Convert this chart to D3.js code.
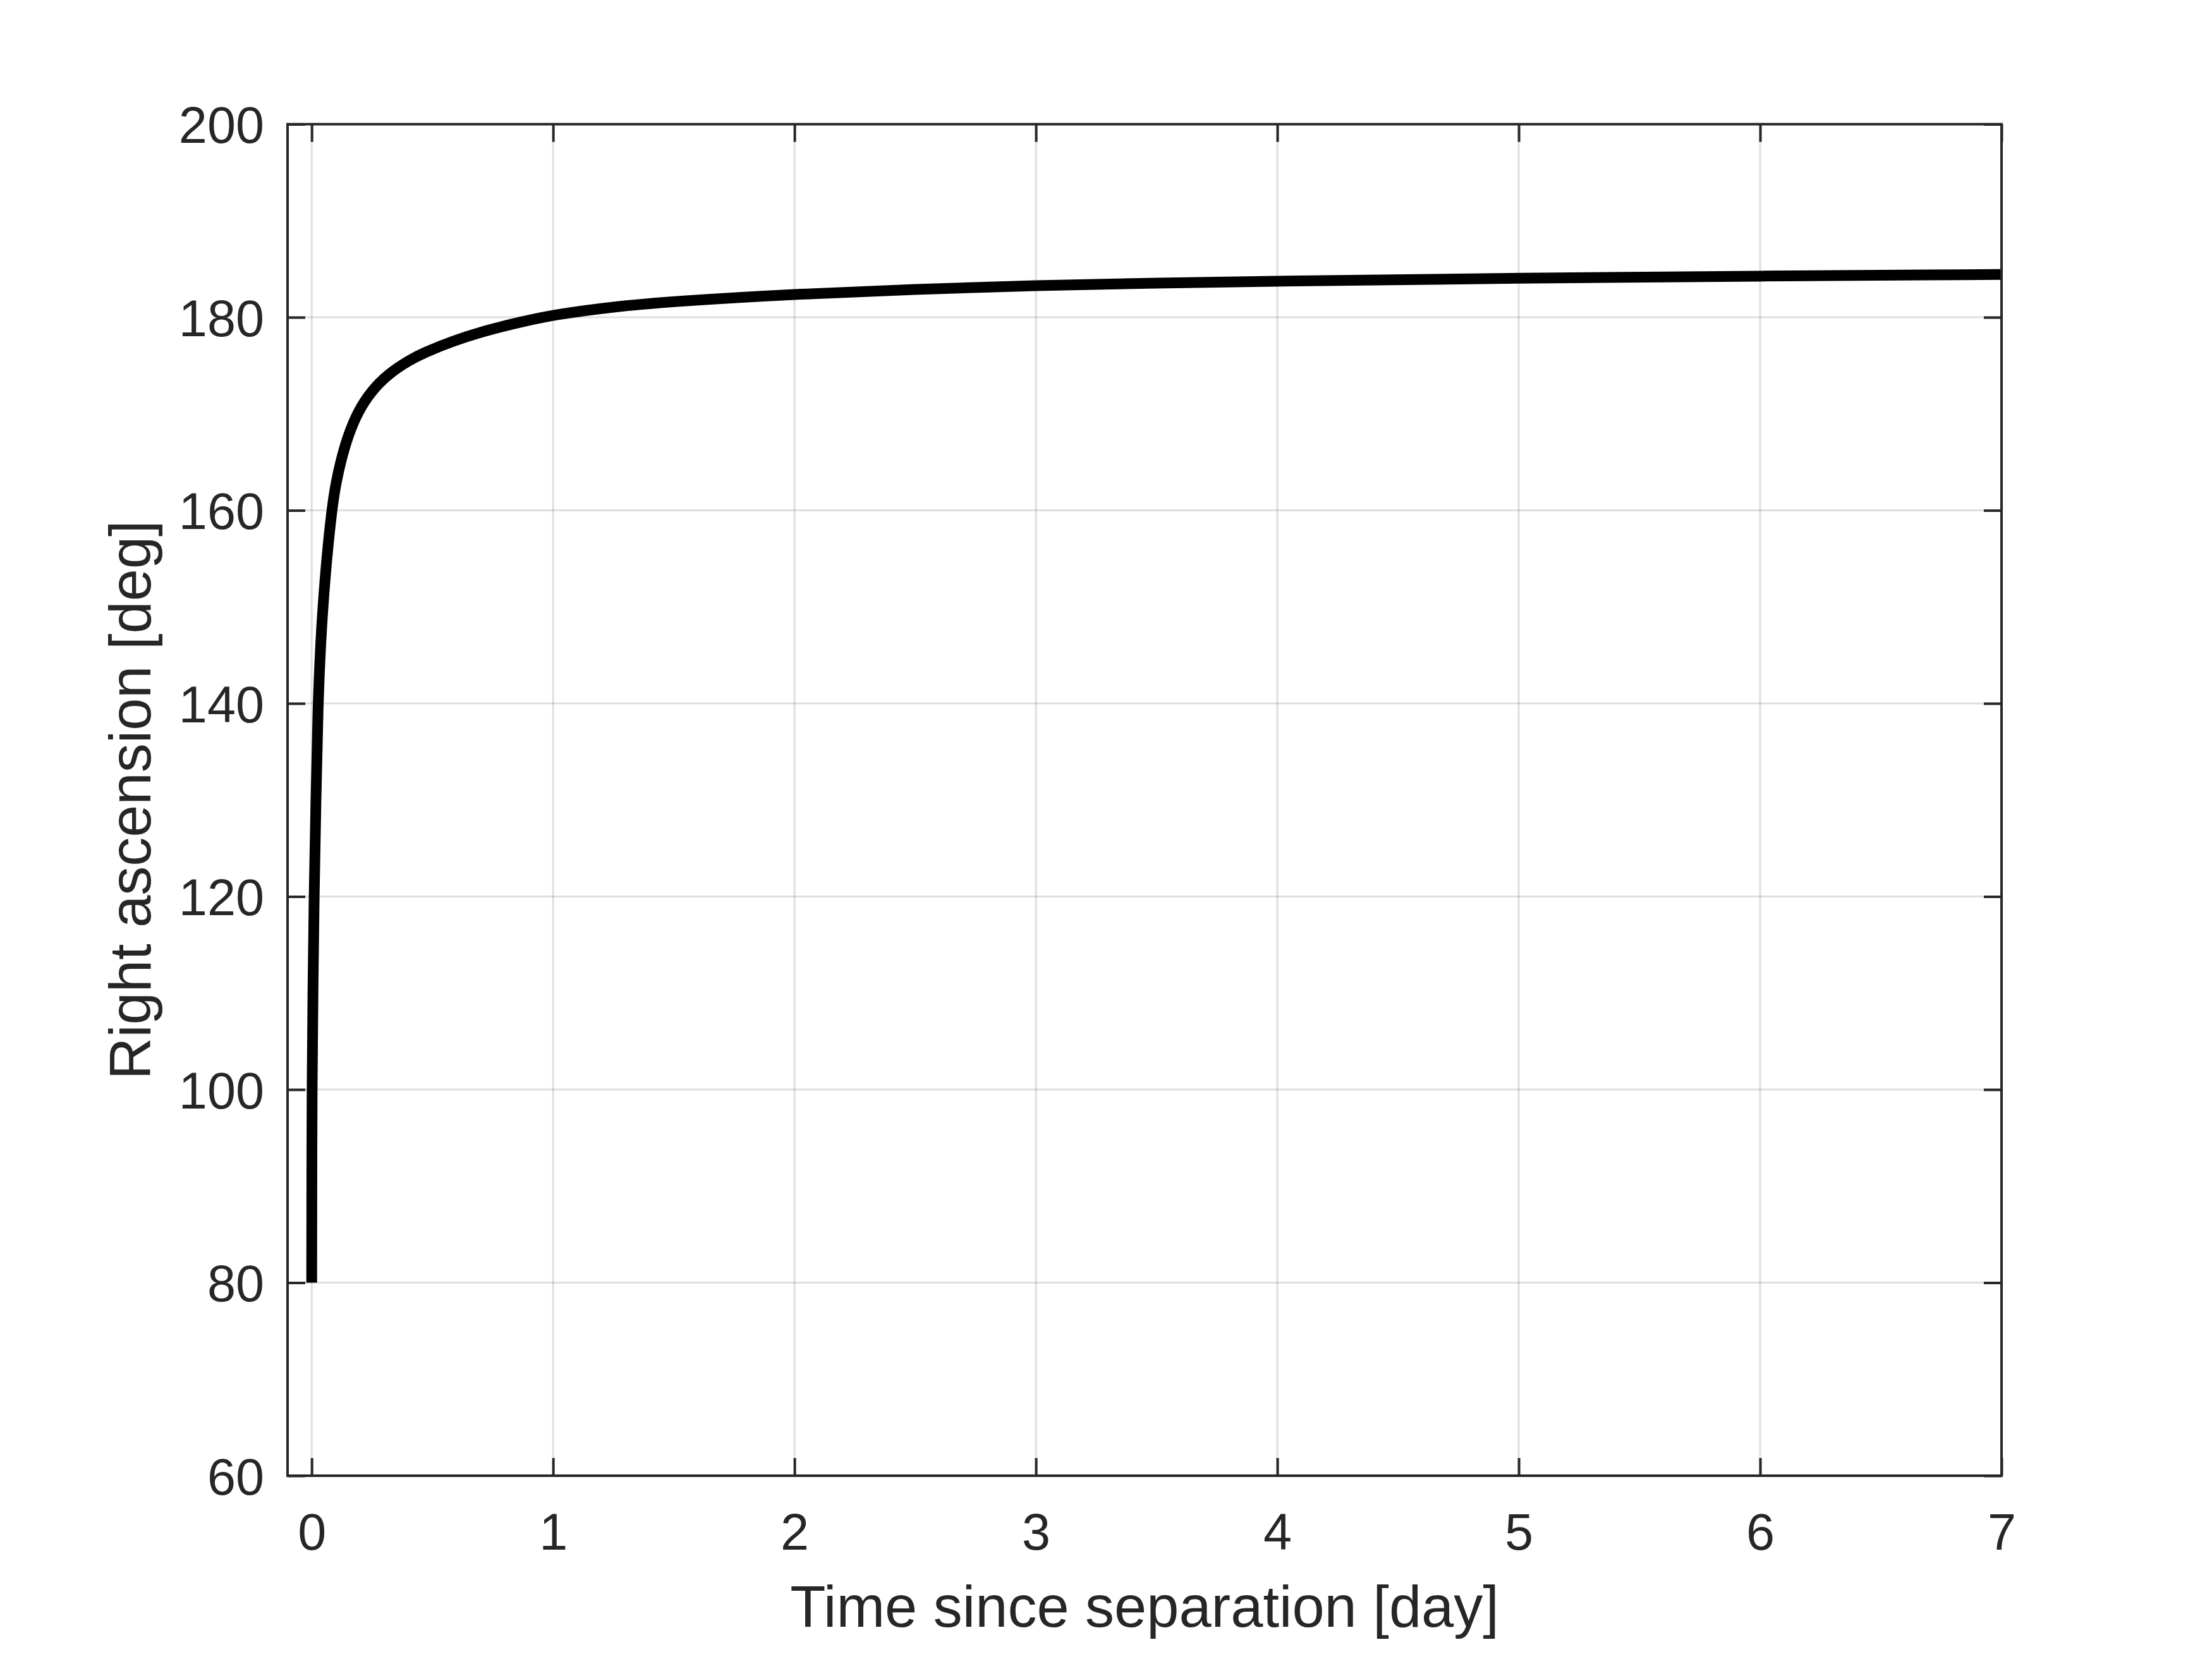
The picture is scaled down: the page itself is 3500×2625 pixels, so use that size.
<!DOCTYPE html>
<html>
<head>
<meta charset="utf-8">
<script src="https://cdn.jsdelivr.net/npm/d3@7"></script>
<style>
  html, body { margin: 0; padding: 0; background: #ffffff; }
  svg { display: block; }
  text { font-family: "Liberation Sans", Arial, Helvetica, sans-serif; fill: #262626; }
</style>
</head>
<body>
<script>
// ---- Data ----
const timeDays = [0, 0.0005, 0.0013, 0.005, 0.0097, 0.0175, 0.026, 0.037, 0.0464, 0.062, 0.083, 0.098, 0.119, 0.151, 0.191, 0.245, 0.315, 0.407, 0.463, 0.585, 0.724, 0.864, 1.0, 1.25, 1.5, 2, 2.5, 3, 3.5, 4, 5, 6, 7];
const rightAscension = [80, 90, 100, 110, 120, 130, 140, 146.2, 150, 155, 160, 162.5, 165, 167.8, 170.2, 172.3, 174.1, 175.6, 176.3, 177.55, 178.65, 179.5, 180.25, 181.1, 181.65, 182.4, 182.9, 183.3, 183.55, 183.75, 184.05, 184.27, 184.43];
const xTicks = [0, 1, 2, 3, 4, 5, 6, 7];
const yTicks = [60, 80, 100, 120, 140, 160, 180, 200];
const xDomain = [-0.1, 7];
const yDomain = [60, 200];
const xLabel = "Time since separation [day]";
const yLabel = "Right ascension [deg]";

// ---- Layout ----
const W = 3500, H = 2625;
const L = 455, R = 3167, T = 196.5, B = 2335;
const axisColor = "#262626";
const tickFont = 81, labelFont = 92, tickLen = 28;

const svg = d3.select("body").append("svg").attr("width", W).attr("height", H);
svg.append("rect").attr("width", W).attr("height", H).attr("fill", "#fff");

const x = d3.scaleLinear().domain(xDomain).range([L, R]);
const y = d3.scaleLinear().domain(yDomain).range([B, T]);

// Grid
const grid = svg.append("g");
grid.selectAll("line.gx").data(xTicks).join("line")
  .attr("x1", d => x(d)).attr("x2", d => x(d)).attr("y1", T).attr("y2", B)
  .attr("stroke", axisColor).attr("stroke-opacity", 0.15).attr("stroke-width", 3);
grid.selectAll("line.gy").data(yTicks).join("line")
  .attr("x1", L).attr("x2", R).attr("y1", d => y(d)).attr("y2", d => y(d))
  .attr("stroke", axisColor).attr("stroke-opacity", 0.15).attr("stroke-width", 3);

// Data line
const clipId = "plotclip";
svg.append("clipPath").attr("id", clipId).append("rect")
  .attr("x", L).attr("y", T).attr("width", R - L).attr("height", B - T);
const pts = timeDays.map((t, i) => [t, rightAscension[i]]);
svg.append("path")
  .datum(pts)
  .attr("clip-path", `url(#${clipId})`)
  .attr("d", d3.line().x(d => x(d[0])).y(d => y(d[1])).curve(d3.curveBasis))
  .attr("fill", "none").attr("stroke", "#000").attr("stroke-width", 17)
  .attr("stroke-linejoin", "round").attr("stroke-linecap", "butt");

// Axes (ticks inward, box)
const bottomAxis = d3.axisBottom(x).tickValues(xTicks).tickSize(-tickLen).tickPadding(0).tickFormat(d3.format("d"));
const topAxis = d3.axisTop(x).tickValues(xTicks).tickSize(-tickLen).tickFormat("");
const leftAxis = d3.axisLeft(y).tickValues(yTicks).tickSize(-tickLen).tickPadding(0).tickFormat(d3.format("d"));
const rightAxis = d3.axisRight(y).tickValues(yTicks).tickSize(-tickLen).tickFormat("");

function styleAxis(g) {
  g.select(".domain").remove();
  g.selectAll(".tick line").attr("stroke", axisColor).attr("stroke-width", 4);
}

const gb = svg.append("g").attr("transform", `translate(0,${B})`).call(bottomAxis).call(styleAxis);
gb.selectAll(".tick text").attr("y", 2452 - B).attr("dy", null)
  .attr("font-size", tickFont).attr("fill", axisColor)
  .style("font-family", '"Liberation Sans", Arial, sans-serif');

svg.append("g").attr("transform", `translate(0,${T})`).call(topAxis).call(styleAxis);

const gl = svg.append("g").attr("transform", `translate(${L},0)`).call(leftAxis).call(styleAxis);
gl.selectAll(".tick text").attr("x", 418 - L).attr("dy", null).attr("y", 0.716 * tickFont / 2)
  .attr("text-anchor", "end")
  .attr("font-size", tickFont).attr("fill", axisColor)
  .style("font-family", '"Liberation Sans", Arial, sans-serif');

svg.append("g").attr("transform", `translate(${R},0)`).call(rightAxis).call(styleAxis);

// Frame
svg.append("rect").attr("x", L).attr("y", T).attr("width", R - L).attr("height", B - T)
  .attr("fill", "none").attr("stroke", axisColor).attr("stroke-width", 4);

// Axis labels
svg.append("text").attr("x", (L + R) / 2).attr("y", 2574)
  .attr("text-anchor", "middle").attr("font-size", labelFont).text(xLabel);
svg.append("text").attr("transform", `translate(238,${(T + B) / 2}) rotate(-90)`)
  .attr("text-anchor", "middle").attr("font-size", labelFont).text(yLabel);
</script>
</body>
</html>
